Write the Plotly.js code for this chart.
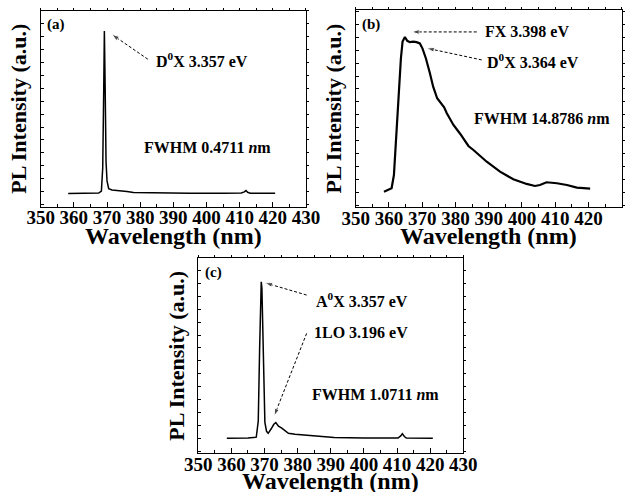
<!DOCTYPE html>
<html>
<head>
<meta charset="utf-8">
<script src="https://cdn.plot.ly/plotly-3.0.1.min.js"></script>
<style>html,body{margin:0;padding:0;background:#fff;}#chart{width:633px;height:492px;}</style>
</head>
<body>
<div id="chart"></div>
<script>
// Panel (a) spectrum
var xA = [358.3, 365.0, 367.5, 368.3, 368.7, 369.0, 369.2, 369.45, 369.7, 370.0, 370.5, 371.5, 373.9, 376.0, 378.0, 385.0, 395.0, 405.0, 410.5, 411.4, 411.9, 412.4, 413.2, 420.7];
var yA = [1.03, 1.04, 1.06, 1.2, 3.0, 9.0, 13.62, 9.0, 3.5, 2.0, 1.4, 1.30, 1.25, 1.18, 1.10, 1.06, 1.05, 1.05, 1.06, 1.15, 1.25, 1.12, 1.05, 1.04];
// Panel (b) spectrum
var xB = [358.5, 360.8, 361.5, 362.3, 363.0, 363.6, 364.1, 364.8, 365.5, 366.3, 367.3, 368.3, 369.3, 370.1, 371.1, 372.3, 373.3, 374.5, 375.9, 376.6, 377.4, 379.4, 381.4, 383.9, 385.4, 389.4, 393.4, 397.4, 401.4, 403.9, 405.4, 407.4, 410.5, 413.5, 416.5, 420.5];
var yB = [1.21, 1.47, 2.5, 5.6, 8.96, 11.55, 12.84, 13.2, 12.9, 12.8, 12.84, 12.8, 12.7, 12.3, 11.55, 10.4, 9.35, 8.45, 7.93, 7.75, 7.29, 6.38, 5.7, 4.75, 4.44, 3.53, 2.76, 2.17, 1.81, 1.65, 1.73, 1.94, 1.86, 1.73, 1.52, 1.44];
// Panel (c) spectrum
var xC = [358.6, 365.0, 367.5, 368.1, 368.5, 368.8, 369.0, 369.2, 369.4, 369.7, 370.1, 370.6, 371.1, 372.0, 372.8, 373.4, 374.2, 375.2, 376.2, 377.2, 379.2, 382.0, 386.0, 391.0, 400.0, 410.3, 411.1, 411.6, 412.2, 412.8, 420.8];
var yC = [1.16, 1.18, 1.25, 2.5, 8.0, 12.5, 13.3, 12.8, 10.0, 5.0, 2.4, 1.7, 1.55, 1.9, 2.25, 2.38, 2.1, 1.95, 1.75, 1.55, 1.47, 1.40, 1.30, 1.22, 1.18, 1.18, 1.35, 1.52, 1.3, 1.18, 1.16];
// Tick labels
var tickVals = [350, 360, 370, 380, 390, 400, 410, 420, 430];
var tickText = ["350", "360", "370", "380", "390", "400", "410", "420", "430"];

var FONT = "Liberation Serif";

function xax(domain, anchor) {
  return {
    domain: domain, anchor: anchor, range: [350, 430],
    tickvals: tickVals, ticktext: tickText.map(function (t) { return '<b>' + t + '</b>'; }),
    ticks: 'inside', ticklen: 5, tickwidth: 1, tickcolor: '#000',
    minor: {dtick: 5, tick0: 350, ticks: 'inside', ticklen: 3, tickcolor: '#000'},
    ticklabelstandoff: -6,
    showline: true, linecolor: '#000', linewidth: 1, mirror: true,
    showgrid: false, zeroline: false,
    tickfont: {family: FONT, size: 19, color: '#000'}
  };
}
function xtop(over, anchor) {
  return {overlaying: over, anchor: anchor, side: 'top', range: [350, 430],
    dtick: 5, tick0: 350, ticks: 'outside', ticklen: 2, tickwidth: 1, tickcolor: '#000',
    showticklabels: false, showgrid: false, zeroline: false, showline: false};
}
function yax(domain, anchor, top) {
  return {
    domain: domain, anchor: anchor, range: [0, top],
    dtick: 1, tick0: 0.17, ticks: 'inside', ticklen: 3, tickwidth: 1, tickcolor: '#000',
    showticklabels: false,
    showline: true, linecolor: '#000', linewidth: 1, mirror: true,
    showgrid: false, zeroline: false,
    title: {text: '<b>PL Intensity (a.u.)</b>', font: {family: FONT, size: 22, color: '#000'}, standoff: 6}
  };
}
function yright(over, anchor, top) {
  return {overlaying: over, anchor: anchor, side: 'right', range: [0, top],
    dtick: 1, tick0: 0.17, ticks: 'outside', ticklen: 2, tickwidth: 1, tickcolor: '#000',
    showticklabels: false, showgrid: false, zeroline: false, showline: false};
}

var traces = [
  {x: xA, y: yA, xaxis: 'x', yaxis: 'y', type: 'scatter', mode: 'lines', line: {color: '#000', width: 1.5}, hoverinfo: 'skip'},
  {x: xB, y: yB, xaxis: 'x2', yaxis: 'y2', type: 'scatter', mode: 'lines', line: {color: '#000', width: 2.2}, hoverinfo: 'skip'},
  {x: xC, y: yC, xaxis: 'x3', yaxis: 'y3', type: 'scatter', mode: 'lines', line: {color: '#000', width: 1.5}, hoverinfo: 'skip'},
  // empty traces that register the mirrored outer tick axes
  {x: [], y: [], xaxis: 'x4', yaxis: 'y', type: 'scatter', hoverinfo: 'skip'},
  {x: [], y: [], xaxis: 'x5', yaxis: 'y2', type: 'scatter', hoverinfo: 'skip'},
  {x: [], y: [], xaxis: 'x6', yaxis: 'y3', type: 'scatter', hoverinfo: 'skip'},
  {x: [], y: [], xaxis: 'x', yaxis: 'y4', type: 'scatter', hoverinfo: 'skip'},
  {x: [], y: [], xaxis: 'x2', yaxis: 'y5', type: 'scatter', hoverinfo: 'skip'},
  {x: [], y: [], xaxis: 'x3', yaxis: 'y6', type: 'scatter', hoverinfo: 'skip'}
];

// dashed annotation arrows (tail -> head), head drawn as an arrow marker
function arrow(xa, ya, x0, y0, x1, y1) {
  traces.push({x: [x0, x1], y: [y0, y1], xaxis: xa, yaxis: ya, type: 'scatter', mode: 'lines+markers',
    line: {color: '#000', width: 1, dash: '3px,2px'},
    marker: {symbol: 'arrow', size: [0, 8], angleref: 'previous', color: '#000'}, hoverinfo: 'skip'});
}
arrow('x', 'y', 382.3, 11.43, 371.4, 13.36);
arrow('x2', 'y2', 386.4, 13.59, 366.8, 13.59);
arrow('x2', 'y2', 387.9, 11.42, 371.35, 12.33);
arrow('x3', 'y3', 382.7, 12.27, 370.1, 13.22);
arrow('x3', 'y3', 382.7, 9.30, 372.9, 2.89);

function txt(xr, yr, x, y, text, size, xanchor) {
  return {xref: xr, yref: yr, x: x, y: y, text: '<b>' + text + '</b>', showarrow: false,
    xanchor: xanchor || 'center', yanchor: 'middle',
    font: {family: FONT, size: size, color: '#000'}};
}

var annotations = [
  txt('x', 'y', 351.3, 14.09, '(a)', 15, 'left'),
  txt('x', 'y', 398.6, 11.37, 'D<sup>0</sup>X 3.357 eV', 16),
  txt('x', 'y', 400.3, 4.55, 'FWHM 0.4711 <i>n</i>m', 16),

  txt('x2', 'y2', 351.3, 14.13, '(b)', 15, 'left'),
  txt('x2', 'y2', 401.4, 13.61, 'FX 3.398 eV', 16),
  txt('x2', 'y2', 403.3, 11.34, 'D<sup>0</sup>X 3.364 eV', 16),
  txt('x2', 'y2', 405.9, 6.90, 'FWHM 14.8786 <i>n</i>m', 16),

  txt('x3', 'y3', 351.5, 14.0, '(c)', 15, 'left'),
  txt('x3', 'y3', 399.5, 11.88, 'A<sup>0</sup>X 3.357 eV', 16),
  txt('x3', 'y3', 399.0, 9.35, '1LO 3.196 eV', 16),
  txt('x3', 'y3', 403.55, 4.52, 'FWHM 1.0711 <i>n</i>m', 16),

  // x-axis titles
  txt('paper', 'paper', 0.2738, 0.5203, 'Wavelength (nm)', 24),
  txt('paper', 'paper', 0.7720, 0.5203, 'Wavelength (nm)', 24),
  txt('paper', 'paper', 0.5226, 0.0220, 'Wavelength (nm)', 24)
];

var layout = {
  width: 633, height: 492,
  margin: {l: 0, r: 0, t: 0, b: 0},
  paper_bgcolor: '#fff', plot_bgcolor: '#fff',
  showlegend: false,
  font: {family: FONT, color: '#000'},
  xaxis: xax([0.0643, 0.4834], 'y'),
  yaxis: yax([0.5799, 0.9783], 'x', 15.19),
  xaxis2: xax([0.5619, 0.9822], 'y2'),
  yaxis2: yax([0.5787, 0.9797], 'x2', 15.29),
  xaxis3: xax([0.3133, 0.7319], 'y3'),
  yaxis3: yax([0.0787, 0.4750], 'x3', 15.12),
  xaxis4: xtop('x', 'y'),
  xaxis5: xtop('x2', 'y2'),
  xaxis6: xtop('x3', 'y3'),
  yaxis4: yright('y', 'x', 15.19),
  yaxis5: yright('y2', 'x2', 15.29),
  yaxis6: yright('y3', 'x3', 15.12),
  annotations: annotations
};

Plotly.newPlot('chart', traces, layout, {staticPlot: true, displayModeBar: false});
</script>
</body>
</html>
